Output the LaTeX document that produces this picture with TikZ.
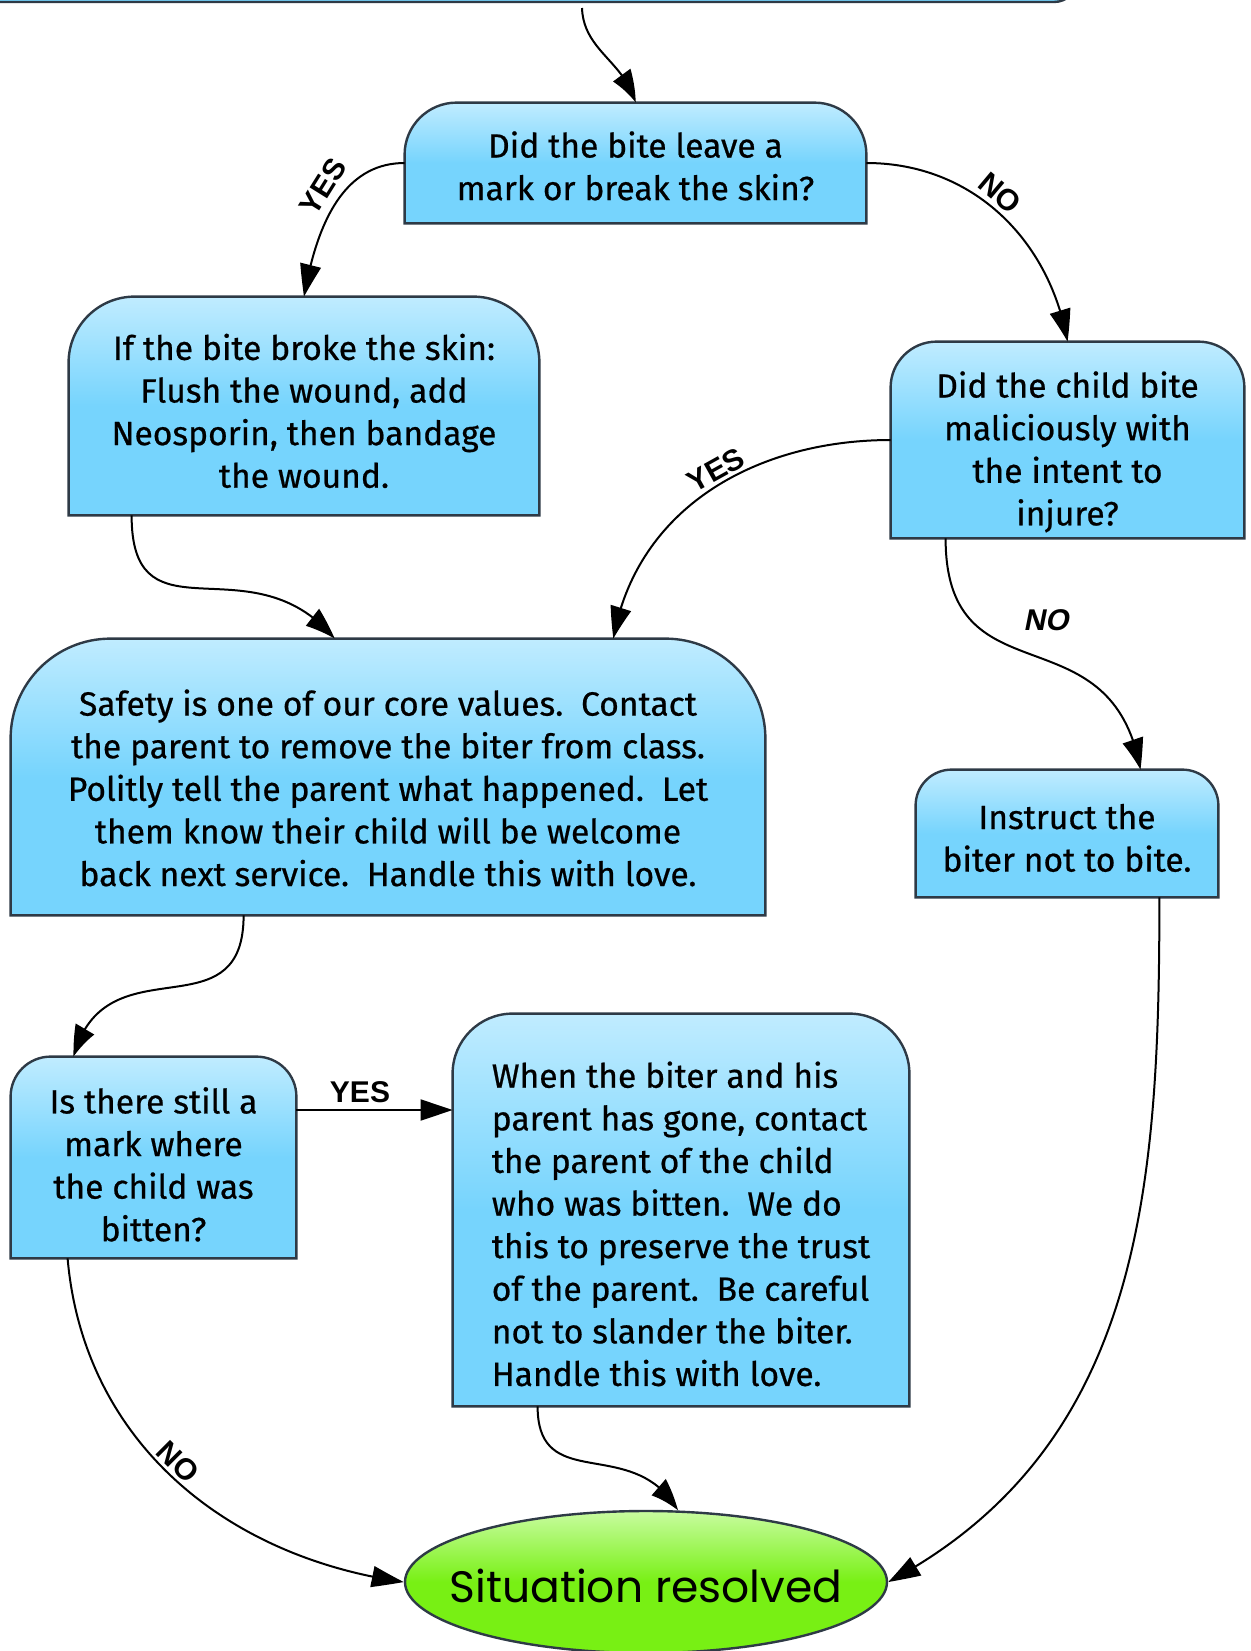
\documentclass[tikz,border=0pt]{standalone}
\usepackage{fontspec}
\setmainfont{Fira Sans}[FakeBold=0.6]
\newfontfamily\labelfont{Liberation Sans}
\newfontfamily\endfont{Poppins}
\usetikzlibrary{arrows.meta,bending,backgrounds,shapes.geometric}
\definecolor{boxtop}{RGB}{192,236,255}
\definecolor{boxbot}{RGB}{118,212,253}
\definecolor{boxline}{RGB}{46,58,70}
\definecolor{endtop}{RGB}{200,252,160}
\definecolor{endbot}{RGB}{120,240,20}
\newcommand{\topgap}[1]{\rule{0pt}{#1}}

\begin{document}
\begin{tikzpicture}[x=0.5pt, y=0.5pt,
  qbox/.style={inner sep=0pt, align=center, font=\fontsize{16.8}{21.3}\selectfont},
  conn/.style={line width=1pt, -{Triangle[length=16pt,width=10.5pt,bend]}},
  lbl/.style={font=\labelfont\bfseries\fontsize{15}{15}\selectfont, inner sep=1pt}]

  \useasboundingbox (0,0) rectangle (1251,-1651);

  \draw[line width=1.2pt, draw=boxline, fill=boxbot, rounded corners=12pt] (-40,-2) rectangle (1078,300);
  \coordinate (prev) at (582,-8);

  \node[qbox, minimum width=230.5pt, minimum height=60pt] (q1) at (635.5,-163) {\topgap{16pt}Did the bite leave a\\mark or break the skin?};
  \node[qbox, minimum width=235pt, minimum height=109pt] (flush) at (304,-406) {\topgap{18pt}If the bite broke the skin:\\Flush the wound, add\\Neosporin, then bandage\\the wound.};
  \node[qbox, minimum width=176.5pt, minimum height=98pt] (q2) at (1067.5,-440) {\topgap{25pt}Did the child bite\\maliciously with\\the intent to\\injure?};
  \node[qbox, minimum width=377pt, minimum height=138pt] (safety) at (388,-777) {\topgap{24pt}Safety is one of our core values.\ \ Contact\\the parent to remove the biter from class.\\Politly tell the parent what happened.\ \ Let\\them know their child will be welcome\\back next service.\ \ Handle this with love.};
  \node[qbox, minimum width=151pt, minimum height=63.5pt] (instruct) at (1067,-833.5) {\topgap{17pt}Instruct the\\biter not to bite.};
  \node[qbox, minimum width=142.5pt, minimum height=100.5pt] (q3) at (153.5,-1157.5) {\topgap{20pt}Is there still a\\mark where\\the child was\\bitten?};
  \node[qbox, align=left, minimum width=228pt, minimum height=196pt] (when) at (681,-1210) {\topgap{27pt}When the biter and his\\parent has gone, contact\\the parent of the child\\who was bitten.\ \ We do\\this to preserve the trust\\of the parent.\ \ Be careful\\not to slander the biter.\\Handle this with love.};
  \node[ellipse, line width=1.2pt, draw=boxline, top color=endtop, bottom color=endbot, middle color=endbot,
    minimum width=241pt, minimum height=71pt,
    label={[font=\endfont\fontsize{22}{22}\selectfont, yshift=-2pt]center:Situation resolved}] (resolved) at (646,-1582) {};

  \begin{scope}[on background layer]
    \foreach \n/\r in {q1/26pt, flush/33pt, q2/23pt, safety/50pt, instruct/18pt, q3/20pt, when/30pt}
      \draw[line width=1.2pt, draw=boxline, top color=boxtop, bottom color=boxbot, middle color=boxbot]
        (\n.south west) -- ([yshift=-\r]\n.north west) arc[start angle=180, end angle=90, radius=\r]
        -- ([xshift=-\r]\n.north east) arc[start angle=90, end angle=0, radius=\r] -- (\n.south east) -- cycle;
  \end{scope}

  \draw[conn] (prev) to[out=-88, in=105] (q1.north);
  \draw[conn] (q1.west) to[out=180, in=80] (flush.north);
  \draw[conn] (q1.east) to[out=0, in=100] (q2.north);
  \draw[conn] ([xshift=31.5pt]flush.south west) to[out=-90, in=130, looseness=1.4] ([xshift=162pt]safety.north west);
  \draw[conn] (q2.west) to[out=180, in=80] ([xshift=-76pt]safety.north east);
  \draw[conn] ([xshift=27.5pt]q2.south west) to[out=-90, in=100, looseness=1.4] ([xshift=-39pt]instruct.north east);
  \draw[conn] ([xshift=116.5pt]safety.south west) to[out=-90, in=75, looseness=1.4] ([xshift=31.5pt]q3.north west);
  \draw[conn] ([yshift=23.75pt]q3.east) coordinate (yesq3) -- (yesq3 -| when.west);
  \draw[conn] ([xshift=28.5pt]q3.south west) to[out=-85, in=172] (resolved.west);
  \draw[conn] ([xshift=42.5pt]when.south west) to[out=-90, in=120, looseness=1.3] (resolved.66);
  \draw[conn] ([xshift=-29.5pt]instruct.south east) to[out=-90, in=28] (resolved.east);

  \node[lbl, rotate=58] (yes1) at (323,-187) {YES};
  \node[lbl, rotate=-40] (no1) at (1000,-193) {NO};
  \node[lbl, rotate=29] (yes2) at (716,-470) {YES};
  \node[lbl, xslant=0.2] (no2) at (1048,-620) {NO};
  \node[lbl] (yes3) at (360,-1092) {YES};
  \node[lbl, rotate=-45] (no3) at (178,-1462) {NO};
\end{tikzpicture}
\end{document}
